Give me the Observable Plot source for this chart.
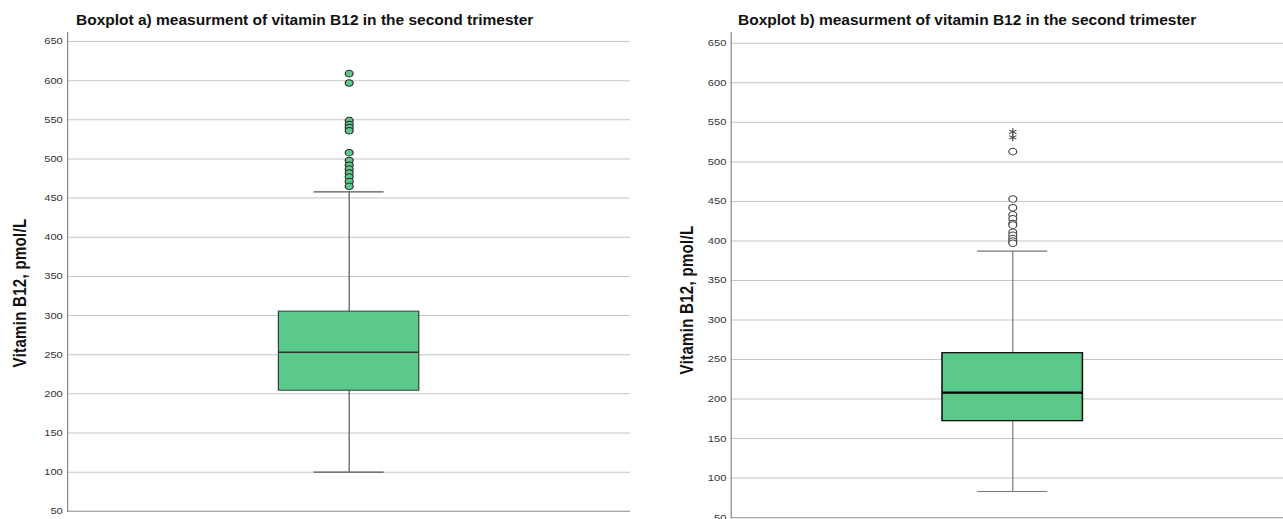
<!DOCTYPE html>
<html><head><meta charset="utf-8">
<script src="https://cdn.jsdelivr.net/npm/d3@7"></script>
<script src="https://cdn.jsdelivr.net/npm/@observablehq/plot@0.6"></script>
<style>
body{margin:0;background:#fff;overflow:hidden;width:1283px;height:519px;font-family:"Liberation Sans",Arial,sans-serif;}
#stage{position:absolute;left:0;top:0;width:1069.17px;height:519px;transform:scaleX(1.2);transform-origin:0 0;}
.panel{position:absolute;top:0;overflow:hidden;}
.title{position:absolute;font-weight:bold;font-size:15.5px;line-height:15.5px;color:#111;white-space:nowrap;}
.ylab{position:absolute;font-weight:bold;font-size:15px;letter-spacing:0.3px;white-space:nowrap;transform:translate(-50%,-50%) rotate(-90deg);color:#111;line-height:1;}
</style></head><body><div id="stage"></div>
<script>
// ---- data ----
const groups = ["a", "b"];
const titles = [
  "Boxplot a) measurment of vitamin B12 in the second trimester",
  "Boxplot b) measurment of vitamin B12 in the second trimester"
];
const yLabel = "Vitamin B12, pmol/L";
const q1 = [204, 172];
const median = [253, 208];
const q3 = [305, 258];
const whiskerLow = [100, 83];
const whiskerHigh = [458, 387];
const outliersA = [609, 597, 549, 544, 540, 536, 508, 498, 492, 487, 482, 477, 471, 465];
const outliersB = [513, 453, 442, 433, 428, 422, 420, 411, 407, 403, 400, 397];
const extremesA = [];
const extremesB = [538, 531];
const yTicks = [50, 100, 150, 200, 250, 300, 350, 400, 450, 500, 550, 600, 650];

// ---- layout (final pixels, horizontal stretch S applied by CSS) ----
const S = 1.2;
const stage = document.getElementById("stage");
const green = "#5bc98a";

const panels = [
  {left: 0, width: 640, clipH: 514, marginLeft: 67, marginRight: 10, bottomY: 510.8, top: 661.5,
   outliers: outliersA, extremes: extremesA, dotFill: green, dotStroke: "#2b2b2b",
   boxStroke: "#3a3a3a", boxW: 1, medStroke: "#333", medW: 1.5, whisk: "#555",
   titleX: 76, labX: 19.5, labY: 293},
  {left: 640, width: 654.4, clipH: 519, marginLeft: 91, marginRight: 0, bottomY: 517.1, top: 663.7,
   outliers: outliersB, extremes: extremesB, dotFill: "#fff", dotStroke: "#444",
   boxStroke: "#111", boxW: 1.3, medStroke: "#000", medW: 2.2, whisk: "#777",
   titleX: 738, labX: 686, labY: 300}
];

panels.forEach((p, i) => {
  const g = groups[i];
  const stats = [{g, q1: q1[i], median: median[i], q3: q3[i], lo: whiskerLow[i], hi: whiskerHigh[i]}];
  const W = p.width / S, mL = p.marginLeft / S, mR = p.marginRight / S;
  const pad = 0.6;
  const bw = (W - mL - mR) * (1 - pad) / (1 + pad);
  const cap = bw / 4;
  const H = 519;
  const chart = Plot.plot({
    width: W, height: H,
    marginLeft: mL, marginRight: mR, marginTop: 32, marginBottom: H - p.bottomY,
    style: {color: "#333", fontSize: "9.3px", fontFamily: "'Liberation Sans', Arial, sans-serif", background: "transparent"},
    x: {type: "band", domain: [g], padding: pad, axis: null},
    y: {domain: [50, p.top], label: null},
    marks: [
      Plot.gridY(yTicks, {stroke: "#c6c6c6", strokeOpacity: 1}),
      Plot.axisY(yTicks, {tickSize: 0, tickPadding: 4, label: null}),
      Plot.ruleY([50], {stroke: "#a8a8a8", strokeWidth: 1.2}),
      Plot.frame({anchor: "left", stroke: "#888"}),
      Plot.ruleX(stats, {x: "g", y1: "lo", y2: "hi", stroke: p.whisk, strokeWidth: 1}),
      Plot.barY(stats, {x: "g", y1: "q1", y2: "q3", fill: green, stroke: p.boxStroke, strokeWidth: p.boxW}),
      Plot.tickY(stats, {x: "g", y: "median", stroke: p.medStroke, strokeWidth: p.medW}),
      Plot.tickY(stats, {x: "g", y: "lo", stroke: p.whisk, strokeWidth: 1.2, insetLeft: cap, insetRight: cap}),
      Plot.tickY(stats, {x: "g", y: "hi", stroke: p.whisk, strokeWidth: 1.2, insetLeft: cap, insetRight: cap}),
      Plot.dot(p.outliers, {x: () => g, y: d => d, r: 3.3, fill: p.dotFill, stroke: p.dotStroke, strokeWidth: 1}),
      Plot.dot(p.extremes, {x: () => g, y: d => d, r: 3.3, symbol: "asterisk", stroke: "#444", strokeWidth: 1})
    ]
  });
  const div = document.createElement("div");
  div.className = "panel";
  div.style.left = (p.left / S) + "px";
  div.style.width = W + "px";
  div.style.height = p.clipH + "px";
  div.appendChild(chart);
  stage.appendChild(div);

  const l = document.createElement("div");
  l.className = "ylab";
  l.textContent = yLabel;
  l.style.left = (p.labX / S) + "px";
  l.style.top = p.labY + "px";
  stage.appendChild(l);

  const t = document.createElement("div");
  t.className = "title";
  t.textContent = titles[i];
  t.style.left = p.titleX + "px";
  t.style.top = "11.5px";
  document.body.appendChild(t);
});
</script></body></html>
